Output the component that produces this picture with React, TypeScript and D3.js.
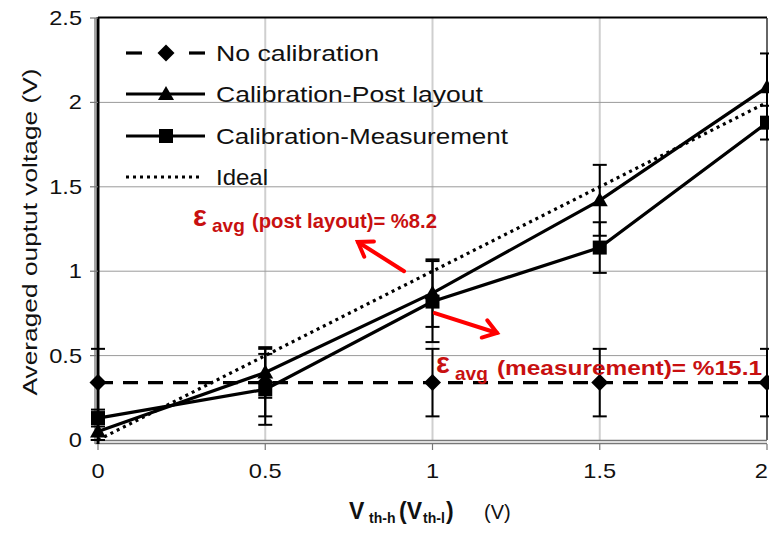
import * as d3 from 'd3';

// x positions (V_th-h) shared by every series
const xValues = [0, 0.5, 1, 1.5, 2];

// averaged output voltage per series (V)
const noCalibration = [0.34, 0.34, 0.34, 0.34, 0.34];
const noCalibrationErr = [0.2, 0.2, 0.2, 0.2, 0.2];
const postLayout = [0.05, 0.4, 0.87, 1.42, 2.09];
const postLayoutErr = [0.05, 0.15, 0.2, 0.21, 0.2];
const measurement = [0.13, 0.3, 0.82, 1.14, 1.88];
const measurementErr = [0.05, 0.21, 0.24, 0.15, 0.1];
const ideal = [0, 0.5, 1, 1.5, 2];

const xTicks = [0, 0.5, 1, 1.5, 2];
const yTicks = [0, 0.5, 1, 1.5, 2, 2.5];

const legendLabels = ['No calibration', 'Calibration-Post layout', 'Calibration-Measurement', 'Ideal'];

const FONT = '"Liberation Sans", Arial, sans-serif';
const RED_TEXT = '#c81010';
const RED_ARROW = '#ff0000';

const width = 769;
const height = 534;

// plot area
const left = 98;
const right = 767;
const top = 18;
const bottom = 440;

const x = d3.scaleLinear().domain([0, 2]).range([left, right]);
const y = d3.scaleLinear().domain([0, 2.5]).range([bottom, top]);

// arrows for the error annotations, in data units: [from, to]
const arrows: [number, number, number, number][] = [
  [0.915, 1.0, 0.777, 1.173],
  [1.007, 0.752, 1.193, 0.634],
];

type Marker = 'diamond' | 'triangle' | 'square' | 'none';

const markerPath = (m: Marker, cx: number, cy: number) => {
  if (m === 'diamond') return `M${cx},${cy - 8.5}L${cx + 8.5},${cy}L${cx},${cy + 8.5}L${cx - 8.5},${cy}Z`;
  if (m === 'triangle') return `M${cx},${cy - 8}L${cx + 8},${cy + 6}L${cx - 8},${cy + 6}Z`;
  if (m === 'square') return `M${cx - 7},${cy - 7}h14v14h-14Z`;
  return '';
};

const series = [
  { values: noCalibration, err: noCalibrationErr, marker: 'diamond' as Marker, dash: '15,10', width: 3.2 },
  { values: postLayout, err: postLayoutErr, marker: 'triangle' as Marker, dash: '', width: 3.2 },
  { values: measurement, err: measurementErr, marker: 'square' as Marker, dash: '', width: 3.2 },
  { values: ideal, err: null, marker: 'none' as Marker, dash: '3,4', width: 3.2 },
];

const arrowHead = (x1: number, y1: number, x2: number, y2: number) => {
  const a = Math.atan2(y2 - y1, x2 - x1);
  const len = 16;
  const spread = 0.6;
  const p1 = [x2 - len * Math.cos(a - spread), y2 - len * Math.sin(a - spread)];
  const p2 = [x2 - len * Math.cos(a + spread), y2 - len * Math.sin(a + spread)];
  return `M${p1[0]},${p1[1]}L${x2},${y2}L${p2[0]},${p2[1]}`;
};

export default function App() {
  const line = d3
    .line<number>()
    .x((_, i) => x(xValues[i]))
    .y(d => y(d));

  const legendY = [53, 94, 136, 177];
  const legendLen = [163, 267, 292, 52];

  return (
    <svg
      width={width}
      height={height}
      style={{ position: 'absolute', left: 0, top: 0, background: '#fff' }}
      fontFamily={FONT}
    >
      <rect width={width} height={height} fill="#fff" />

      {/* grid */}
      {xTicks.filter(t => t > 0 && t < 2).map(t => (
        <line key={'gx' + t} x1={x(t)} x2={x(t)} y1={top} y2={bottom} stroke="#cfcfcf" strokeWidth={2} />
      ))}
      {yTicks.filter(t => t > 0 && t < 2.5).map(t => (
        <line key={'gy' + t} x1={left} x2={right} y1={y(t)} y2={y(t)} stroke="#9a9a9a" strokeWidth={1} />
      ))}

      {/* frame */}
      <line x1={left} x2={right} y1={top - 0.5} y2={top - 0.5} stroke="#000" strokeWidth={2} />
      <line x1={right} x2={right} y1={top} y2={bottom} stroke="#333" strokeWidth={1.5} />
      <line x1={left - 3} x2={right} y1={bottom + 0.5} y2={bottom + 0.5} stroke="#777" strokeWidth={1.5} />
      <line x1={left - 3} x2={right} y1={bottom + 3.5} y2={bottom + 3.5} stroke="#777" strokeWidth={1.5} />
      <line x1={left - 3} x2={left - 3} y1={top} y2={bottom + 4} stroke="#888" strokeWidth={1.5} />
      <line x1={left} x2={left} y1={top - 1} y2={bottom + 4} stroke="#000" strokeWidth={3} />

      {/* tick marks */}
      {yTicks.map(t => (
        <line key={'ty' + t} x1={left - 8} x2={left} y1={y(t)} y2={y(t)} stroke="#777" strokeWidth={1.2} />
      ))}
      {xTicks.map(t => (
        <line key={'tx' + t} x1={x(t)} x2={x(t)} y1={bottom + 4} y2={bottom + 10} stroke="#777" strokeWidth={1.2} />
      ))}

      {/* tick labels */}
      {yTicks.map(t => (
        <text
          key={'ly' + t}
          transform={`translate(82,${y(t) + 7}) scale(1.18,1)`}
          textAnchor="end"
          fontSize={20}
          fill="#111"
        >
          {String(t)}
        </text>
      ))}
      {xTicks.map(t => (
        <text
          key={'lx' + t}
          transform={`translate(${t === 2 ? width - 1 : x(t)},${bottom + 38}) scale(1.18,1)`}
          textAnchor={t === 2 ? 'end' : 'middle'}
          fontSize={20}
          fill="#111"
        >
          {String(t)}
        </text>
      ))}

      {/* axis titles */}
      <text
        transform={`translate(37,232) rotate(-90)`}
        textAnchor="middle"
        fontSize={21}
        fill="#111"
        textLength={327}
        lengthAdjust="spacingAndGlyphs"
      >
        Averaged ouptut voltage (V)
      </text>
      <text y={519} fontWeight="bold" fill="#111">
        <tspan x={349} fontSize={23}>V</tspan>
        <tspan x={369} dy={4} fontSize={14}>th-h</tspan>
        <tspan x={399} dy={-4} fontSize={23}>(V</tspan>
        <tspan x={423} dy={4} fontSize={14}>th-l</tspan>
        <tspan x={446} dy={-4} fontSize={23}>)</tspan>
        <tspan x={484} fontWeight="normal" fontSize={20}>(V)</tspan>
      </text>

      {/* error bars */}
      {series.map((s, si) =>
        s.err
          ? s.values.map((v, i) => {
              const cx = x(xValues[i]);
              const lo = y(v - s.err![i]);
              const hi = y(v + s.err![i]);
              return (
                <g key={`e${si}-${i}`} stroke="#000" strokeWidth={2}>
                  <line x1={cx} x2={cx} y1={lo} y2={hi} />
                  <line x1={cx - 7} x2={cx + 7} y1={lo} y2={lo} />
                  <line x1={cx - 7} x2={cx + 7} y1={hi} y2={hi} />
                </g>
              );
            })
          : null
      )}

      {/* series lines */}
      {series.map((s, si) => (
        <path
          key={'s' + si}
          d={line(s.values) || ''}
          fill="none"
          stroke="#000"
          strokeWidth={s.width}
          strokeDasharray={s.dash || undefined}
        />
      ))}

      {/* markers */}
      {series.map((s, si) =>
        s.marker === 'none'
          ? null
          : s.values.map((v, i) => (
              <path key={`m${si}-${i}`} d={markerPath(s.marker, x(xValues[i]), y(v))} fill="#000" />
            ))
      )}

      {/* legend */}
      {legendLabels.map((lab, i) => {
        const ly = legendY[i];
        const s = series[i];
        return (
          <g key={'lg' + i}>
            {i === 0 ? (
              <g stroke="#000" strokeWidth={3.2}>
                <line x1={126} x2={142} y1={ly} y2={ly} />
                <line x1={189} x2={205} y1={ly} y2={ly} />
              </g>
            ) : i === 3 ? (
              <line x1={126} x2={200} y1={ly} y2={ly} stroke="#000" strokeWidth={3.2} strokeDasharray="3,4" />
            ) : (
              <line x1={126} x2={205} y1={ly} y2={ly} stroke="#000" strokeWidth={3.2} />
            )}
            {s.marker !== 'none' && <path d={markerPath(s.marker, 166, ly)} fill="#000" />}
            <text
              x={216}
              y={ly + 8}
              fontSize={22}
              fill="#111"
              textLength={legendLen[i]}
              lengthAdjust="spacingAndGlyphs"
            >
              {lab}
            </text>
          </g>
        );
      })}

      {/* annotations */}
      {arrows.map(([ax1, ay1, ax2, ay2], i) => {
        const x1 = x(ax1), y1 = y(ay1), x2 = x(ax2), y2 = y(ay2);
        return (
          <g key={'ar' + i} stroke={RED_ARROW} strokeWidth={4} fill="none" strokeLinecap="round">
            <line x1={x1} y1={y1} x2={x2} y2={y2} />
            <path d={arrowHead(x1, y1, x2, y2)} />
          </g>
        );
      })}
      <g fill={RED_TEXT} fontWeight="bold">
        <text x={193} y={226} fontSize={29}>ε</text>
        <text x={212} y={232} fontSize={19}>avg</text>
        <text x={252} y={228} fontSize={20} textLength={185} lengthAdjust="spacingAndGlyphs">
          (post layout)= %8.2
        </text>
        <text x={436} y={373} fontSize={29}>ε</text>
        <text x={455} y={380} fontSize={19}>avg</text>
        <text x={497} y={375} fontSize={20} textLength={265} lengthAdjust="spacingAndGlyphs">
          (measurement)= %15.1
        </text>
      </g>
    </svg>
  );
}
